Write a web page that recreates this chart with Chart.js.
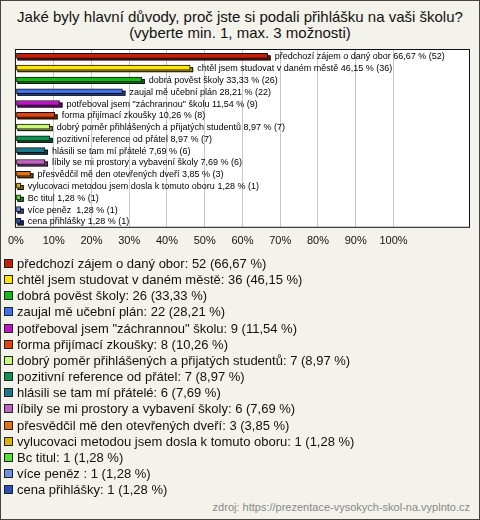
<!DOCTYPE html>
<html>
<head>
<meta charset="utf-8">
<script src="https://cdn.jsdelivr.net/npm/chart.js@4"></script>
<style>
    body { margin: 0; background: #fff; }
    #frame {
        position: relative; width: 480px; height: 520px; box-sizing: border-box;
        border: 1px solid #444; background: #f3f2eb;
        font-family: "Liberation Sans", Arial, sans-serif; color: #111;
    }
    #title { position: absolute; top: 8px; left: 0; width: 478px; text-align: center; font-size: 15px; line-height: 16px; }
    #box { position: absolute; top: 43px; left: -1px; width: 480px; height: 216px; }
    #legend { position: absolute; top: 255px; left: 2px; font-size: 13px; line-height: 16.15px; }
    #legend div { white-space: nowrap; }
    #legend span { display: inline-block; width: 7px; height: 7px; border: 1px solid #222; margin-right: 4px; margin-left: 1px; vertical-align: 0px; }
    #source { position: absolute; right: 9px; bottom: 6px; font-size: 11px; color: #888; }
</style>
</head>
<body>
<div id="frame">
    <div id="title">Jaké byly hlavní důvody, proč jste si podali přihlášku na vaši školu?<br>(vyberte min. 1, max. 3 možnosti)</div>
    <div id="box"><canvas id="reasons-chart"></canvas></div>
    <div id="legend"></div>
    <div id="source">zdroj: https://prezentace-vysokych-skol-na.vyplnto.cz</div>
</div>
<script>
    var categories = [
        'předchozí zájem o daný obor',
        'chtěl jsem studovat v daném městě',
        'dobrá pověst školy',
        'zaujal mě učební plán',
        'potřeboval jsem "záchrannou" školu',
        'forma přijímací zkoušky',
        'dobrý poměr přihlášených a přijatých studentů',
        'pozitivní reference od přátel',
        'hlásili se tam mí přátelé',
        'líbily se mi prostory a vybavení školy',
        'přesvědčil mě den otevřených dveří',
        'vylucovaci metodou jsem dosla k tomuto oboru',
        'Bc titul',
        'více peněz ',
        'cena přihlášky'
    ];
    var counts = [52, 36, 26, 22, 9, 8, 7, 7, 6, 6, 3, 1, 1, 1, 1];
    var percents = [66.67, 46.15, 33.33, 28.21, 11.54, 10.26, 8.97, 8.97, 7.69, 7.69, 3.85, 1.28, 1.28, 1.28, 1.28];
    var colors = ['#c21f0d', '#ffe600', '#14bb14', '#3f6fef', '#c012c8', '#e2440f', '#ccf87a', '#0f9150',
                  '#19798b', '#c262c2', '#e2720f', '#e2b200', '#52e22f', '#6c90e8', '#2a4fb8'];
    var shades = ['#7a1206', '#a89600', '#0a700a', '#23449a', '#760a7a', '#8c2a08', '#7ea048', '#075a30',
                  '#0e4a56', '#7a3a7a', '#8c4606', '#8c6e00', '#2e8c1a', '#425a94', '#182e70'];
    var tickValues = [0, 10, 20, 30, 40, 50, 60, 70, 80, 90, 100];

    function pct(v) { return v.toFixed(2).replace('.', ','); }

    // legend below the chart
    var legendHtml = '';
    categories.forEach(function (c, i) {
        legendHtml += '<div><span style="background:' + colors[i] + '"></span>' + c + ': ' + counts[i] + ' (' + pct(percents[i]) + ' %)</div>';
    });
    document.getElementById('legend').innerHTML = legendHtml;

    // white plot box + 3d bar depth + value labels
    var plotDecor = {
        id: 'plotDecor',
        beforeDraw: function (chart) {
            var a = chart.chartArea, ctx = chart.ctx;
            ctx.save();
            ctx.fillStyle = '#fff';
            ctx.fillRect(a.left, a.top, a.right - a.left, a.bottom - a.top);
            ctx.restore();
        },
        beforeDatasetsDraw: function (chart) {
            var ctx = chart.ctx;
            ctx.save();
            chart.getDatasetMeta(0).data.forEach(function (bar, i) {
                var h = bar.height;
                ctx.fillStyle = shades[i];
                ctx.strokeStyle = '#111';
                ctx.fillRect(bar.base + 1, bar.y - h / 2 + 2, bar.x - bar.base + 2, h);
                ctx.strokeRect(bar.base + 1.5, bar.y - h / 2 + 2.5, bar.x - bar.base + 1, h - 1);
            });
            ctx.restore();
        },
        afterDatasetsDraw: function (chart) {
            var ctx = chart.ctx;
            ctx.save();
            ctx.font = '9px "Liberation Sans", Arial, sans-serif';
            ctx.fillStyle = '#000';
            ctx.textBaseline = 'middle';
            chart.getDatasetMeta(0).data.forEach(function (bar, i) {
                ctx.fillText(categories[i] + ' ' + pct(percents[i]) + ' % (' + counts[i] + ')', bar.x + 7, bar.y + 1);
            });
            ctx.restore();
        },
        afterDraw: function (chart) {
            var a = chart.chartArea, ctx = chart.ctx;
            ctx.save();
            ctx.strokeStyle = '#111';
            ctx.lineWidth = 1;
            ctx.strokeRect(a.left - 0.5, a.top - 0.5, a.right - a.left + 1, a.bottom - a.top + 1);
            ctx.restore();
        }
    };

    new Chart(document.getElementById('reasons-chart'), {
        type: 'bar',
        data: {
            labels: categories,
            datasets: [{
                data: percents,
                backgroundColor: colors,
                borderColor: '#111',
                borderWidth: 1,
                borderSkipped: false,
                barThickness: 5
            }]
        },
        plugins: [plotDecor],
        options: {
            indexAxis: 'y',
            responsive: true,
            maintainAspectRatio: false,
            animation: false,
            layout: { padding: { left: 12, right: 11, top: 6, bottom: 4 } },
            plugins: {
                legend: { display: false },
                tooltip: { enabled: false }
            },
            scales: {
                x: {
                    min: 0,
                    max: 120,
                    border: { display: false },
                    afterBuildTicks: function (axis) {
                        axis.ticks = tickValues.map(function (v) { return { value: v }; });
                    },
                    grid: {
                        drawTicks: false,
                        color: function (ctx) {
                            return ctx.tick && ctx.tick.value > 0 ? '#c8c8c8' : 'rgba(0,0,0,0)';
                        }
                    },
                    ticks: {
                        padding: 8,
                        color: '#111',
                        font: { family: '"Liberation Sans", Arial, sans-serif', size: 11 },
                        callback: function (v) { return v + '%'; }
                    }
                },
                y: {
                    display: false,
                    offset: true
                }
            }
        }
    });
</script>
</body>
</html>
